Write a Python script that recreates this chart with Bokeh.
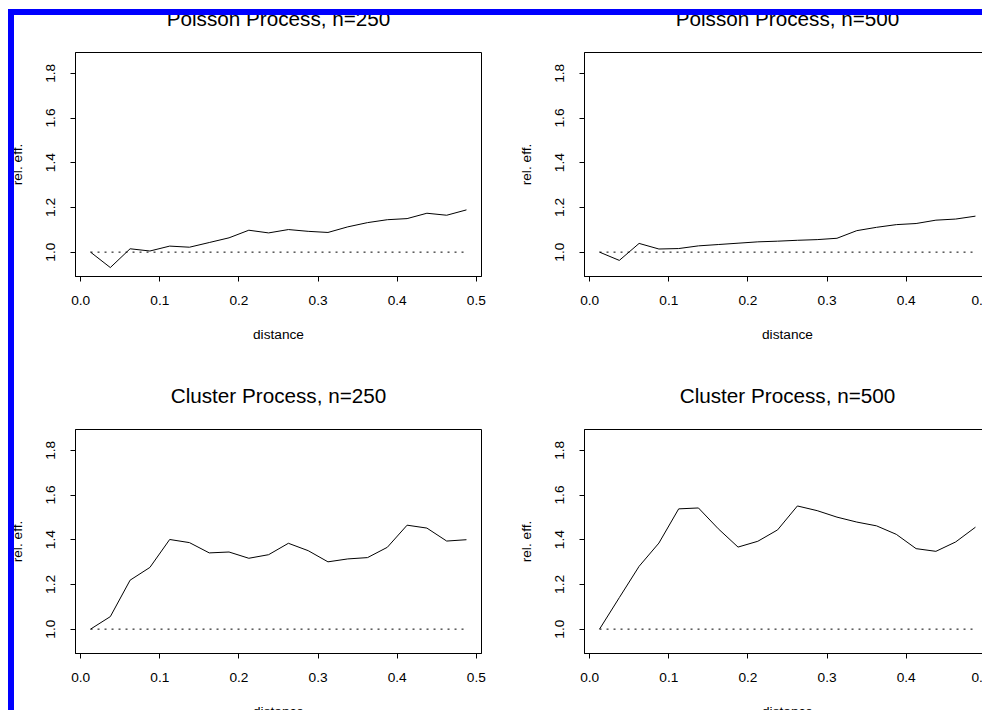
from bokeh.plotting import figure
from bokeh.models import Range1d, FixedTicker, Div
from bokeh.layouts import row, column
from bokeh.embed import file_html
from bokeh.resources import INLINE

# ---------------- data ----------------
distance = [0.0125, 0.0375, 0.0625, 0.0875, 0.1125, 0.1375, 0.1625, 0.1875, 0.2125, 0.2375,
            0.2625, 0.2875, 0.3125, 0.3375, 0.3625, 0.3875, 0.4125, 0.4375, 0.4625, 0.4875]
poisson_250 = [1.000, 0.931, 1.015, 1.005, 1.027, 1.022, 1.043, 1.064, 1.098, 1.086,
               1.101, 1.093, 1.088, 1.113, 1.132, 1.145, 1.150, 1.174, 1.165, 1.189]
poisson_500 = [1.000, 0.963, 1.039, 1.014, 1.016, 1.028, 1.034, 1.040, 1.046, 1.049,
               1.053, 1.056, 1.062, 1.096, 1.111, 1.123, 1.128, 1.143, 1.148, 1.161]
cluster_250 = [1.000, 1.056, 1.219, 1.276, 1.401, 1.387, 1.341, 1.345, 1.317, 1.333,
               1.384, 1.351, 1.301, 1.314, 1.320, 1.366, 1.465, 1.452, 1.394, 1.400]
cluster_500 = [1.000, 1.141, 1.281, 1.385, 1.538, 1.542, 1.449, 1.367, 1.393, 1.444,
               1.551, 1.530, 1.501, 1.479, 1.462, 1.424, 1.360, 1.348, 1.390, 1.456]
reference_level = [1.0, 1.0]
reference_span = [0.0125, 0.4875]

titles = ["Poisson Process, n=250", "Poisson Process, n=500",
          "Cluster Process, n=250", "Cluster Process, n=500"]
x_ticks = [0.0, 0.1, 0.2, 0.3, 0.4, 0.5]
x_tick_labels = ["0.0", "0.1", "0.2", "0.3", "0.4", "0.5"]
y_ticks = [1.0, 1.2, 1.4, 1.6, 1.8]
y_tick_labels = ["1.0", "1.2", "1.4", "1.6", "1.8"]
x_label = "distance"
y_label = "rel. eff."

FONT = "Liberation Sans"
TICK_SIZE = "13.7px"
TITLE_SIZE = "20.7px"

X0, X1 = -0.0065, 0.5065
Y0, Y1 = 0.891, 1.893
FRAME_W = 406
FRAME_H = 224
TOP_BORDER = 76


def make_panel(title, values, width, height, left, right):
    p = figure(width=width, height=height,
               x_range=Range1d(X0, X1), y_range=Range1d(Y0, Y1),
               output_backend="svg", toolbar_location=None,
               min_border_left=left, min_border_right=right,
               min_border_top=TOP_BORDER, min_border_bottom=height - TOP_BORDER - FRAME_H)
    p.title.text = title
    p.title.text_font = FONT
    p.title.text_font_size = TITLE_SIZE
    p.title.text_font_style = "normal"
    p.title.text_color = "black"
    p.title.align = "center"
    p.title.standoff = 45
    p.xgrid.visible = False
    p.ygrid.visible = False
    p.background_fill_color = "white"
    p.border_fill_color = "white"
    p.outline_line_color = "black"
    p.outline_line_alpha = 1.0
    p.outline_line_width = 1

    xa = p.below[0]
    ya = p.left[0]
    for ax, ticks, labels in ((xa, x_ticks, x_tick_labels), (ya, y_ticks, y_tick_labels)):
        ax.ticker = FixedTicker(ticks=ticks)
        ax.major_label_overrides = {t: l for t, l in zip(ticks, labels)}
        ax.axis_line_color = "black"
        ax.major_tick_line_color = "black"
        ax.major_tick_out = 5
        ax.major_tick_in = 0
        ax.minor_tick_line_color = None
        ax.major_label_text_font = FONT
        ax.major_label_text_font_size = TICK_SIZE
        ax.major_label_text_color = "black"
        ax.axis_label_text_font = FONT
        ax.axis_label_text_font_size = TICK_SIZE
        ax.axis_label_text_font_style = "normal"
        ax.axis_label_text_color = "black"
    xa.axis_label = x_label
    ya.axis_label = y_label
    xa.major_label_standoff = 14
    xa.axis_label_standoff = 19
    ya.major_label_standoff = 15
    ya.axis_label_standoff = 19
    ya.major_label_orientation = "vertical"

    # reference line at 1 and the curve
    p.line(reference_span, reference_level, line_color="black", line_width=1, line_dash="2 5")
    p.line(distance, values, line_color="black", line_width=1)
    return p


TOP_H = 377
BOTTOM_H = TOP_BORDER + FRAME_H + 72
LEFT_W = 75 + FRAME_W + 29
RIGHT_W = 74 + FRAME_W
# left panels start at the page's left edge, right panels run past the right edge (clipped)
p1 = make_panel(titles[0], poisson_250, LEFT_W, TOP_H, 75, 29)
p2 = make_panel(titles[1], poisson_500, RIGHT_W, TOP_H, 74, 0)
p3 = make_panel(titles[2], cluster_250, LEFT_W, BOTTOM_H, 75, 29)
p4 = make_panel(titles[3], cluster_500, RIGHT_W, BOTTOM_H, 74, 0)

BLUE = "#0000ff"
band_style = {"background-color": BLUE, "z-index": "10", "position": "relative"}
top_gap = Div(text="", width=982, height=9, margin=0)
left_gap = Div(text="", width=8, height=701, margin=0)
left_band = Div(text="", width=6, height=701, margin=(0, -6, 0, 0), styles=band_style)
top_band = Div(text="", width=974, height=6, margin=(0, 0, -6, 0), styles=band_style)

# frame top of the upper panels sits 52 px below the page top; the band starts at 9
shift_up = TOP_BORDER - (52 - 9)
overflow_bottom = 9 - shift_up + TOP_H + BOTTOM_H - 710
overflow_right = LEFT_W + RIGHT_W - 982
row_top = row(p1, p2, margin=(-shift_up, -overflow_right, 0, -8))
row_bottom = row(p3, p4, margin=(0, -overflow_right, -overflow_bottom, -8))
content = column(top_band, row_top, row_bottom, margin=0)
layout = column(top_gap, row(left_gap, left_band, content, margin=0),
                width=982, height=710, margin=0, styles={"overflow": "hidden"})

open("out.html", "w").write(file_html(layout, INLINE))
